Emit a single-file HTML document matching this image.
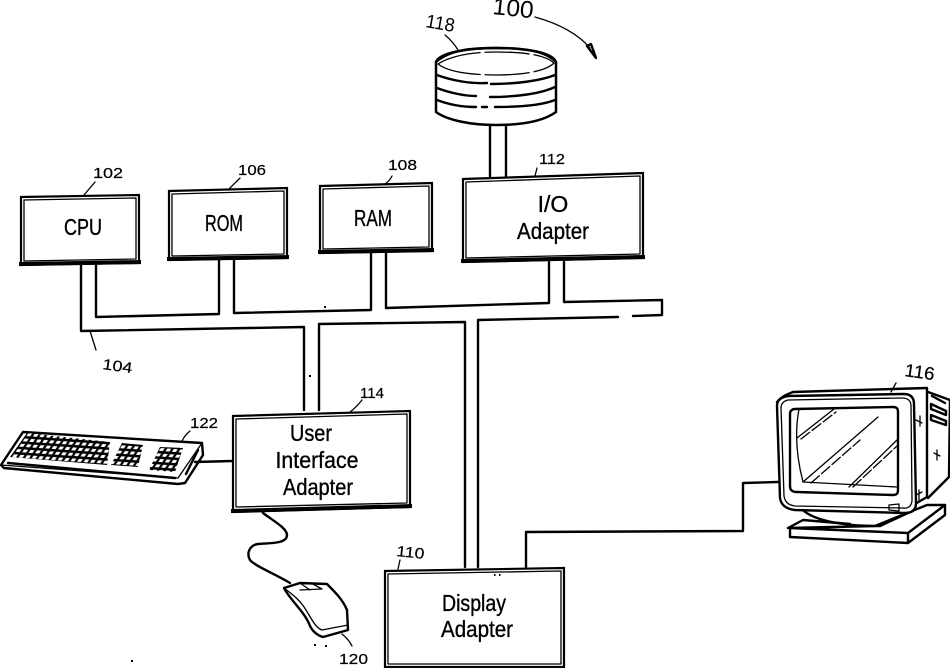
<!DOCTYPE html>
<html><head><meta charset="utf-8"><style>
html,body{margin:0;padding:0;background:#fff}
svg{display:block}
text{font-family:"Liberation Sans",sans-serif;fill:#000}
.m{font-size:23px;text-anchor:middle;stroke:#000;stroke-width:.35}
.l{font-size:15px;stroke:#000;stroke-width:.2}
.s{fill:none;stroke:#000;stroke-width:2.4;stroke-linejoin:round;stroke-linecap:round}
.t{fill:none;stroke:#000;stroke-width:1.3;stroke-linejoin:round;stroke-linecap:round}
.k{fill:none;stroke:#000;stroke-width:2.2;stroke-linejoin:miter}
.b{fill:none;stroke:#000;stroke-width:4;stroke-linecap:square}
</style></head><body>
<svg width="950" height="668" viewBox="0 0 950 668" xmlns="http://www.w3.org/2000/svg">
<defs>
<pattern id="keys" width="6.5" height="5.5" patternUnits="userSpaceOnUse" patternTransform="rotate(4) skewX(-30)">
<rect width="6.5" height="5.5" fill="#000"/><rect x="1.3" y="1.2" width="3.9" height="3" fill="#fff"/>
</pattern>
</defs>

<!-- bus -->
<path class="s" d="M81 264V331L304 327V410M96 264V317L219 314V260M234 260V313L371 310V253M386 253V308L549 303V262M564 262V302L662 300V315L633 316M618 317L478 320V567M465 567V322L319 324V410"/>
<path class="s" d="M490 125V177M506 125V177"/>

<!-- boxes -->
<g>
<path class="k" d="M21 197L139 195V263L21 265Z"/><path class="t" d="M24 200L136 198V259L24 261Z"/><path class="b" d="M21 264L139 262"/>
<path class="k" d="M169 191L287 188V258L169 260Z"/><path class="t" d="M172 194L284 191V254L172 256Z"/><path class="b" d="M169 259L287 257"/>
<path class="k" d="M320 186L432 183V251L320 253Z"/><path class="t" d="M323 189L429 186V247L323 249Z"/><path class="b" d="M320 252L432 250"/>
<path class="k" d="M463 179L643 173V258L463 262Z"/><path class="t" d="M466 182L640 176V254L466 258Z"/><path class="b" d="M463 261L643 257"/>
<path class="k" d="M233 416L410 411V507L233 512Z"/><path class="t" d="M236 419L407 414V503L236 507Z"/><path class="b" d="M233 511L410 506"/>
<path class="k" d="M385 571L564 568V667H385Z"/><path class="t" d="M388 574L561 571V664H388Z"/>
</g>

<text class="m" x="83" y="235" textLength="38" lengthAdjust="spacingAndGlyphs">CPU</text>
<text class="m" x="224" y="231" textLength="38" lengthAdjust="spacingAndGlyphs">ROM</text>
<text class="m" x="373" y="226" textLength="38" lengthAdjust="spacingAndGlyphs">RAM</text>
<text class="m" x="553" y="212">I/O</text>
<text class="m" x="553" y="239" textLength="72" lengthAdjust="spacingAndGlyphs">Adapter</text>
<text class="m" x="311" y="441" textLength="42" lengthAdjust="spacingAndGlyphs">User</text>
<text class="m" x="317" y="468" textLength="83" lengthAdjust="spacingAndGlyphs">Interface</text>
<text class="m" x="318" y="495" textLength="70" lengthAdjust="spacingAndGlyphs">Adapter</text>
<text class="m" x="474" y="611" textLength="64" lengthAdjust="spacingAndGlyphs">Display</text>
<text class="m" x="477" y="637" textLength="72" lengthAdjust="spacingAndGlyphs">Adapter</text>

<!-- disk -->
<path d="M436 62C440 52 470 48 496 48C525 48 552 52 556 62V112C545 120 525 125 496 125C470 125 447 120 436 112Z" fill="#fff" stroke="#000" stroke-width="2.5"/>
<path class="s" d="M436 62C450 50 470 48 496 48C525 48 545 51 556 62"/>
<path class="t" stroke-dasharray="44 5" d="M438 64C452 55 475 52 496 52C525 52 545 55 554 63C545 72 520 75 496 75C472 75 448 72 438 64Z"/>
<path class="s" d="M437 75C450 80 470 84 487 83M491 84C515 84 540 81 555 75"/>
<path class="s" d="M437 88C450 93 465 96 476 96M490 97C515 97 540 94 555 87"/>
<path class="s" d="M437 100C450 105 465 107 476 107M482 107H487M495 107C515 107 540 106 555 100"/>

<path class="t" d="M535 17C560 24 578 34 590 48"/>
<path class="s" d="M587 46L596 58L591 44Z"/>
<path class="t" d="M445 35C451 40 455 45 458 50"/>
<path class="t" d="M95 182L84 195M240 178C235 183 232 186 228 190M392 176C390 180 388 182 385 184M537 168L535 176M362 400C358 405 354 409 350 412M190 431C186 434 184 437 182 441M400 560L398 569M896 383L891 392M96 350L90 331M342 634C347 638 350 642 352 646"/>

<!-- labels -->
<text x="492" y="14" style="font-size:24px" transform="rotate(6 492 14)" textLength="41" lengthAdjust="spacingAndGlyphs">100</text>
<text x="425" y="27" style="font-size:19px" transform="rotate(10 425 27)" textLength="29" lengthAdjust="spacingAndGlyphs">118</text>
<text class="l" x="93" y="178" textLength="30" lengthAdjust="spacingAndGlyphs">102</text>
<text class="l" x="238" y="175" textLength="28" lengthAdjust="spacingAndGlyphs">106</text>
<text class="l" x="388" y="170" textLength="29" lengthAdjust="spacingAndGlyphs">108</text>
<text class="l" x="539" y="164" textLength="26" lengthAdjust="spacingAndGlyphs">112</text>
<text class="l" x="102" y="369" transform="rotate(8 102 369)" textLength="30" lengthAdjust="spacingAndGlyphs">104</text>
<text class="l" x="360" y="398" textLength="24" lengthAdjust="spacingAndGlyphs">114</text>
<text class="l" x="190" y="428" textLength="28" lengthAdjust="spacingAndGlyphs">122</text>
<text class="l" x="396" y="556" transform="rotate(6 396 556)" textLength="28" lengthAdjust="spacingAndGlyphs">110</text>
<text class="l" x="339" y="664" textLength="29" lengthAdjust="spacingAndGlyphs">120</text>
<text x="904" y="376" style="font-size:18px;stroke:#000;stroke-width:.2" transform="rotate(8 904 376)" textLength="30" lengthAdjust="spacingAndGlyphs">116</text>

<!-- keyboard -->
<path class="s" fill="#fff" d="M1 465L23 432L202 443L203 455L185 483L178 484L4 468Z"/>
<path class="t" d="M1 465L178 478L202 443"/>
<path class="s" d="M8 463L175 478M186 474L198 450"/>
<path fill="url(#keys)" d="M10 457L27 433L110 442L107 465Z"/>
<path fill="url(#keys)" d="M122 443L143 445L138 467L111 465Z"/>
<path fill="url(#keys)" d="M160 447L183 448L175 472L149 470Z"/>
<path class="s" d="M195 462L232 461"/>

<!-- mouse -->
<path class="s" d="M263 513C272 520 287 528 287 535C287 544 270 543 258 544C250 545 246 553 250 560C255 566 275 574 290 583"/>
<path class="s" style="fill:#fff" d="M284 588L300 583L327 584C335 592 343 600 347 610L348 630L323 637C316 635 312 630 310 626C305 612 290 600 284 588Z"/>
<path class="t" d="M284 588C292 594 300 600 306 610C312 620 316 628 322 630L348 625M300 583L310 590M311 583L322 589L300 590"/>

<!-- monitor -->
<path class="s" d="M788 528L803 520L850 524M875 526L927 505H945V515L908 543L790 537V528ZM790 528L908 533V543M908 533L945 505"/>
<path class="s" d="M800 507C810 520 840 526 880 526L910 512"/>
<path class="s" d="M793 392L927 388V497L915 504M777 402C782 396 788 394 793 392"/>
<path class="s" d="M928 392L950 400L949 477L928 498"/>
<path class="s" d="M932 396L945 403M931 404L946 411V415L931 409ZM931 415L946 421V425L931 420Z"/>
<path class="s" style="fill:#fff" d="M788 396L904 394C911 394 914 398 914 404L916 503C916 510 912 513 905 513L795 510C786 509 781 505 780 498L777 406C777 400 781 397 788 396Z"/>
<path class="t" d="M788 400L902 398C908 398 911 401 911 406L912 500C912 506 908 509 902 508L795 506C788 505 785 502 784 496L781 408C781 403 784 401 788 400Z"/>
<path class="s" d="M795 409L893 407C897 407 898 409 898 412L898 490C898 494 896 495 893 495L797 492C792 492 790 490 790 486V414C790 411 792 409 795 409Z"/>
<path class="t" d="M799 409C795 430 796 455 803 482L897 487"/>
<path class="t" d="M797 438L834 409M803 482L878 417M849 487L897 440"/>
<path class="t" stroke-dasharray="11 3" d="M801 439L836 412M811 483L860 440M853 487L897 446"/>
<path class="t" d="M889 505L899 504V511L889 510Z"/>
<path class="t" d="M920 416V426M916 420L922 423M937 450V460M934 453L940 456M919 490V500M916 495L922 492"/>

<!-- monitor cable -->
<path class="s" d="M778 482L743 483V531L526 532V567"/>

<!-- specks -->
<g fill="#000"><rect x="309" y="375" width="2" height="2"/><rect x="131" y="660" width="2" height="2"/><rect x="494" y="574" width="1.5" height="2"/><rect x="499" y="574" width="1.5" height="2"/><rect x="314" y="644" width="2" height="2"/><rect x="325" y="645" width="2" height="2"/><rect x="324" y="306" width="2" height="2"/></g>
</svg>
</body></html>
